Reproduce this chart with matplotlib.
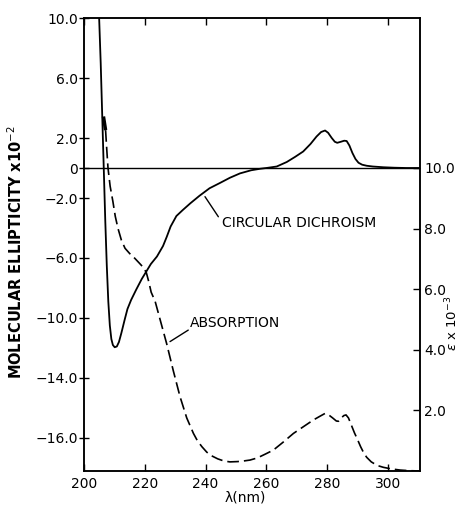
import numpy as np
import matplotlib.pyplot as plt

# circular dichroism (left axis, molecular ellipticity x 10^-2)
cd_lam = [204.9, 205.5, 206.0, 206.5, 207.0, 207.5, 208.0, 208.5, 209.0, 209.5,
          210.1, 210.8, 211.5, 212.3, 213.4, 214.3, 215.5, 217.2, 219.0, 220.5,
          222.0, 224.0, 226.0, 227.2, 228.5, 230.4, 232.5, 235.0, 238.0, 241.3,
          244.7, 248.0, 251.3, 255.0, 258.0, 260.0, 263.4, 266.7, 269.5, 272.1,
          274.5, 276.5, 278.0, 279.3, 280.3, 281.5, 282.5, 283.3, 284.5, 285.6,
          286.4, 287.3, 288.3, 289.3, 290.3, 291.5, 293.0, 295.0, 298.5, 302.0,
          306.0, 310.5]
cd_val = [10.5, 7.0, 3.5, 0.0, -3.5, -6.5, -8.9, -10.5, -11.4, -11.8,
          -11.95, -11.9, -11.6, -11.0, -10.1, -9.4, -8.8, -8.1, -7.4, -6.9,
          -6.4, -5.9, -5.2, -4.6, -3.9, -3.2, -2.8, -2.35, -1.85, -1.35,
          -1.0, -0.65, -0.36, -0.15, -0.05, 0.0, 0.1, 0.4, 0.75, 1.1,
          1.6, 2.1, 2.4, 2.5, 2.35, 2.0, 1.75, 1.68, 1.75, 1.82,
          1.8, 1.5, 1.0, 0.6, 0.35, 0.22, 0.15, 0.1, 0.05, 0.02,
          0.0, 0.0]

# absorption (right axis, epsilon x 10^-3)
abs_lam = [207.1, 207.5, 207.9, 208.6, 209.5, 210.3, 211.2, 212.3, 213.5, 215.0,
           216.7, 218.3, 219.5, 220.5, 221.3, 222.1, 223.4, 225.3, 227.2, 229.4,
           231.6, 233.8, 236.0, 237.3, 238.8, 240.4, 242.0, 244.0, 246.0, 248.0,
           250.5, 252.5, 254.6, 257.0, 259.5, 262.3, 265.5, 268.9, 272.0, 275.4,
           277.5, 279.3, 280.5, 281.8, 283.0, 283.7, 284.6, 285.5, 286.2, 287.0,
           288.0, 289.0, 289.7, 291.0, 292.0, 293.0, 294.5, 296.5, 298.5, 301.0,
           304.0, 307.0, 310.5]
abs_val = [11.25, 10.6, 10.0, 9.4, 8.9, 8.4, 8.0, 7.62, 7.35, 7.18,
           7.02, 6.85, 6.72, 6.55, 6.25, 5.9, 5.6, 4.9, 4.2, 3.3,
           2.45, 1.75, 1.24, 1.0, 0.8, 0.62, 0.5, 0.4, 0.33, 0.3,
           0.31, 0.33, 0.36, 0.43, 0.55, 0.69, 0.95, 1.24, 1.45, 1.68,
           1.8, 1.9, 1.85, 1.75, 1.65, 1.64, 1.75, 1.83, 1.85, 1.75,
           1.5, 1.25, 1.1, 0.8, 0.6, 0.45, 0.3, 0.18, 0.12, 0.07,
           0.03, 0.01, 0.0]
abs_start_lam = [206.4, 207.1]
abs_start_val = [11.7, 11.25]

left_ticks = [10, 6, 2, 0, -2, -6, -10, -14, -18]
left_labels = ['10.0', '6.0', '2.0', '0', '\u22122.0', '\u22126.0', '\u221210.0', '\u221214.0', '\u221216.0']
right_ticks = [2, 4, 6, 8, 10]
right_labels = ['2.0', '4.0', '6.0', '8.0', '10.0']
x_ticks = [200, 220, 240, 260, 280, 300]

plt.rcParams['font.family'] = ['DejaVu Sans']
plt.rcParams['font.size'] = 10

fig = plt.figure(figsize=(4.64, 5.09), dpi=100)
ax = fig.add_axes([0.181, 0.0747, 0.724, 0.8899])
ax2 = ax.twinx()

ax.plot(cd_lam, cd_val, color='k', lw=1.3, solid_joinstyle='round')
ax.axhline(0, color='k', lw=1.0)
ax2.plot(abs_lam, abs_val, color='k', lw=1.2, linestyle=(0, (7, 3)))
ax2.plot(abs_start_lam, abs_start_val, color='k', lw=2.5, solid_capstyle='butt')

ax.set_xlim(200, 310.5)
ax.set_ylim(-20.2, 10)
ax2.set_ylim(0, 14.95)

ax.set_xticks(x_ticks)
ax.set_yticks(left_ticks)
ax.set_yticklabels(left_labels)
ax2.set_yticks(right_ticks)
ax2.set_yticklabels(right_labels)

ax.tick_params(axis='x', direction='in', top=True, length=5, width=1, pad=4)
ax.tick_params(axis='y', direction='inout', length=7, width=1, pad=1)
ax2.tick_params(axis='y', direction='in', length=5, width=1, pad=3)

for a in (ax, ax2):
    for s in a.spines.values():
        s.set_linewidth(1.1)

ax.set_xlabel('\u03bb(nm)', fontsize=10)
ax.xaxis.set_label_coords(0.479, -0.043)
ax.set_ylabel(r'MOLECULAR ELLIPTICITY x10$^{-2}$', fontsize=10.5, fontweight='bold')
ax.yaxis.set_label_coords(-0.176, 0.483)
ax2.set_ylabel(r'$\epsilon$ x 10$^{-3}$', fontsize=9.5, rotation=90)
ax2.yaxis.set_label_coords(1.072, 0.327)

# labels with leader lines
ax.annotate('', xy=(239.8, -1.91), xytext=(244.2, -3.25),
            arrowprops=dict(arrowstyle='-', color='k', lw=1.0, shrinkA=0, shrinkB=0))
ax.text(245.4, -3.67, 'CIRCULAR DICHROISM', fontsize=10, va='center', ha='left')
ax2.annotate('', xy=(228.3, 4.27), xytext=(234.3, 4.65),
             arrowprops=dict(arrowstyle='-', color='k', lw=1.0, shrinkA=0, shrinkB=0))
ax2.text(234.9, 4.88, 'ABSORPTION', fontsize=10, va='center', ha='left')

fig.savefig('out.png', dpi=100)
